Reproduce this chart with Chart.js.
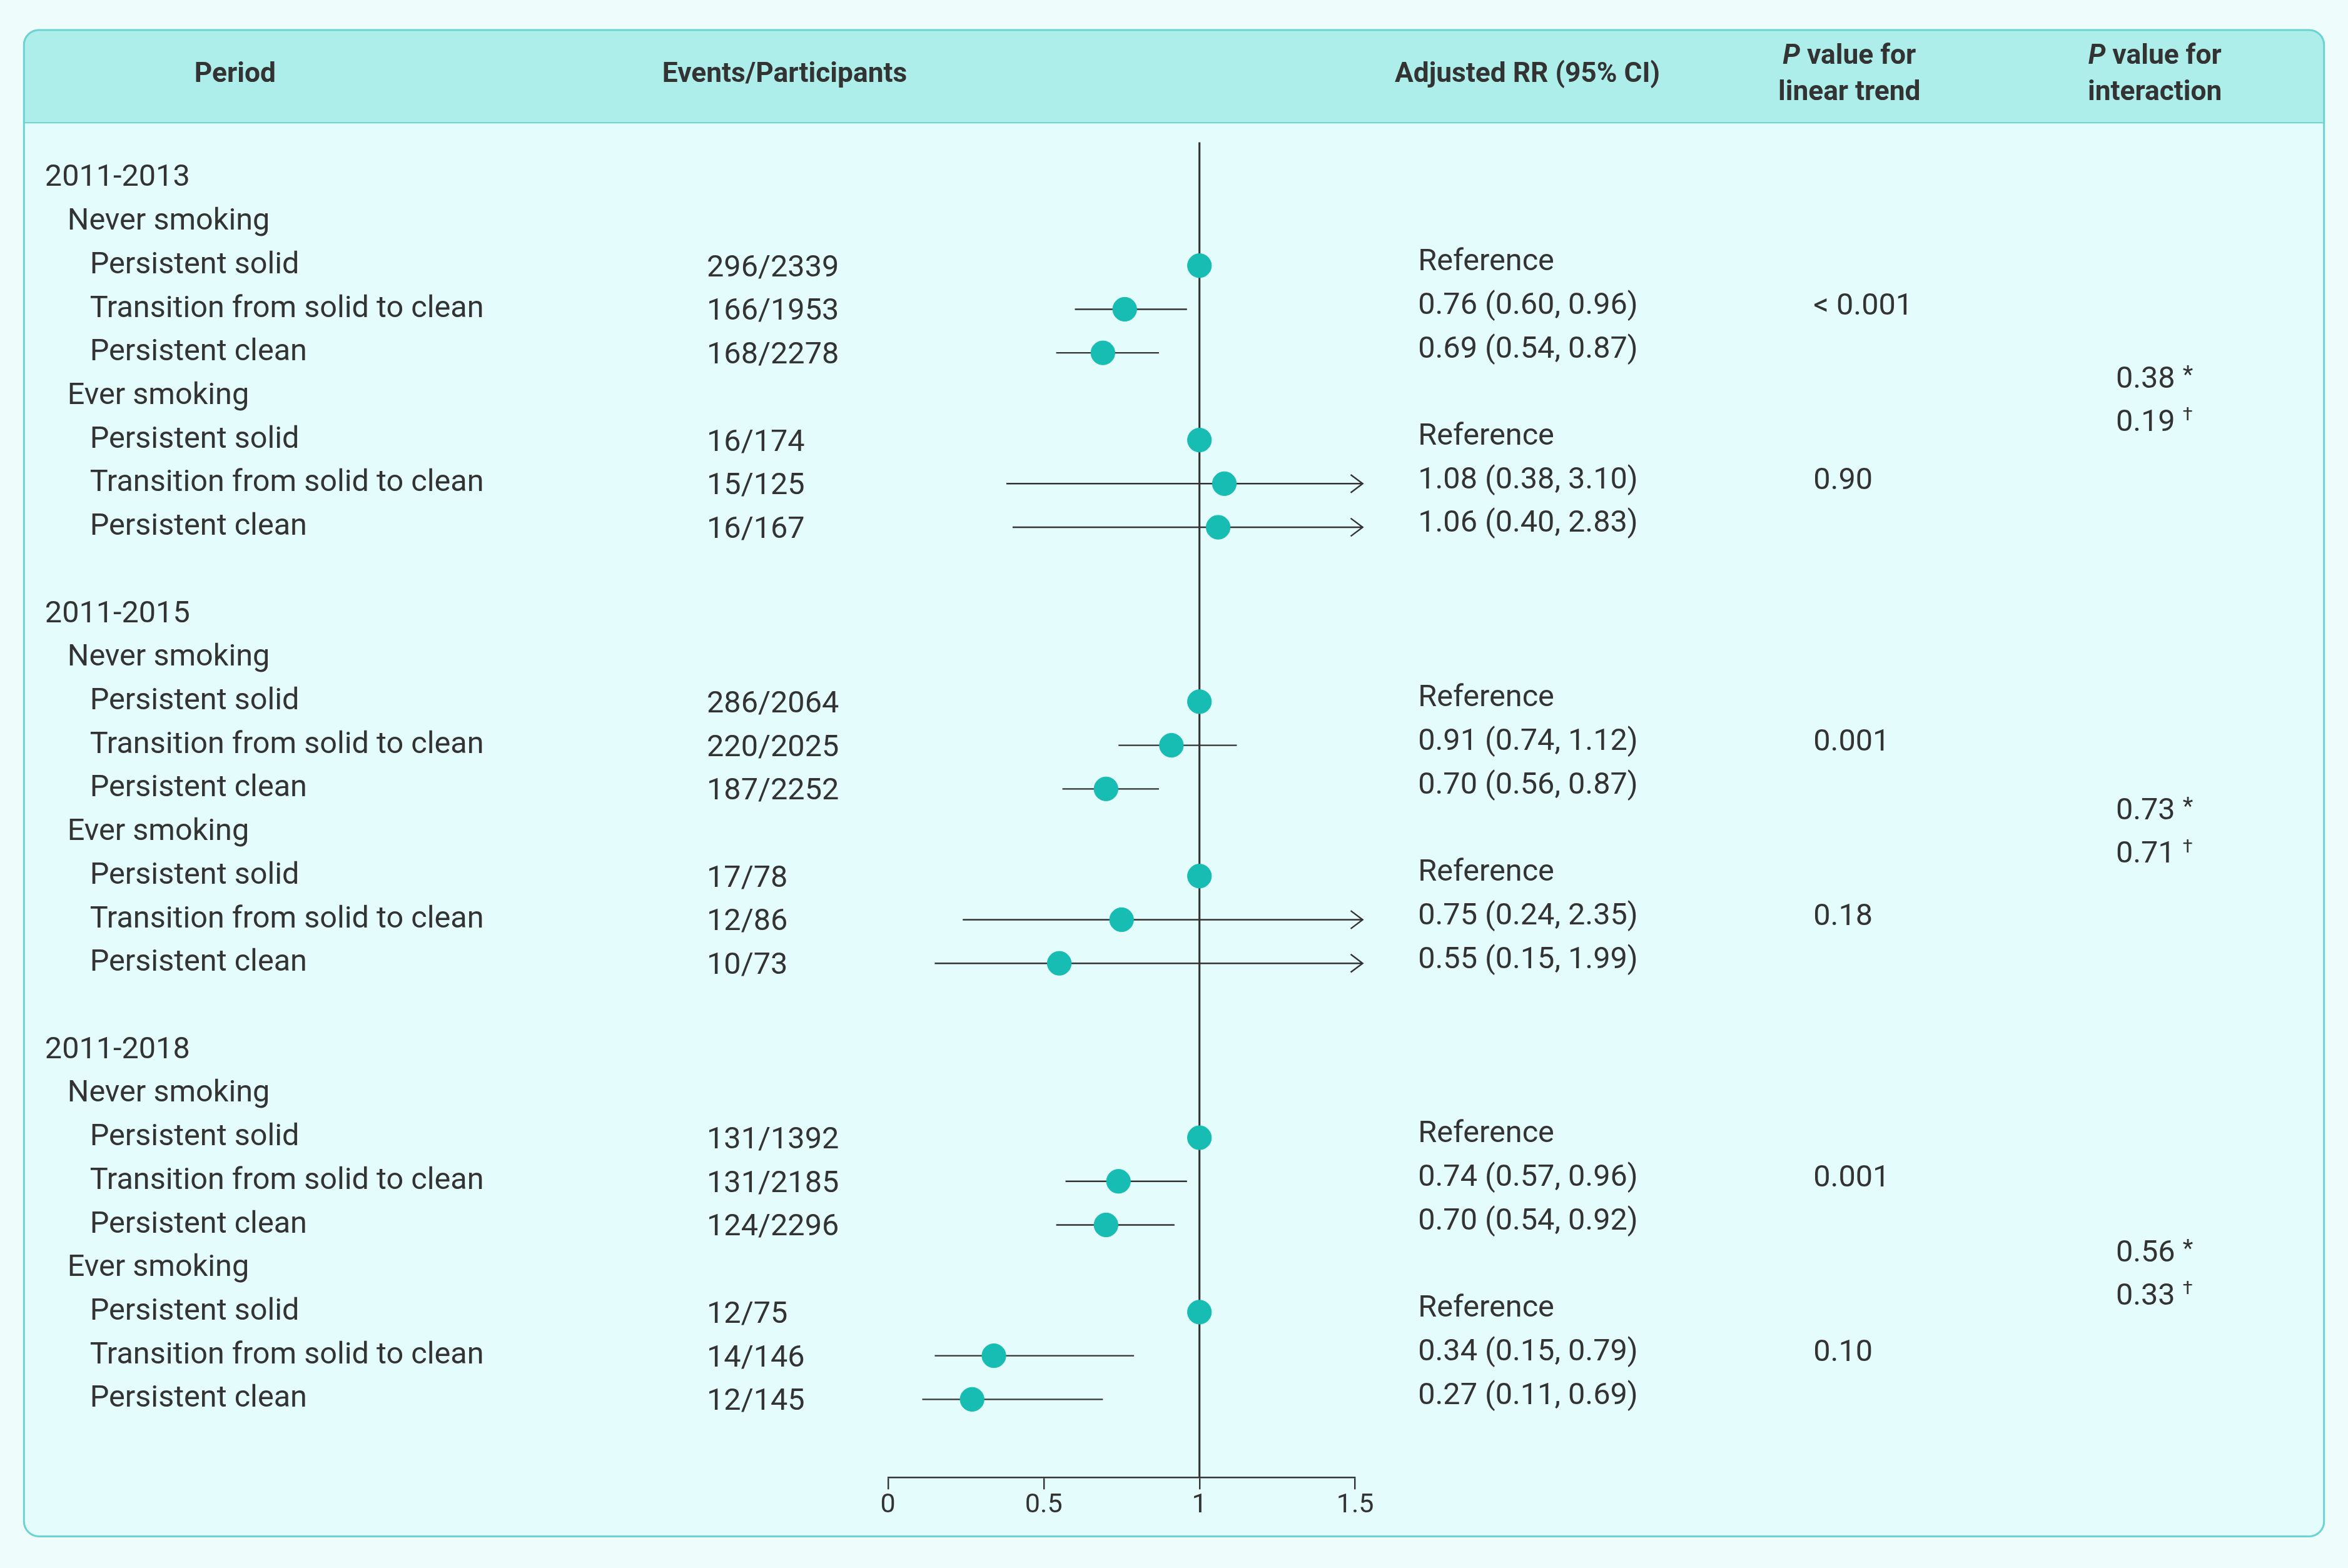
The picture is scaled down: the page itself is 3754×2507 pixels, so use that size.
<!DOCTYPE html>
<html><head><meta charset="utf-8">
<script src="https://cdn.jsdelivr.net/npm/chart.js@4/dist/chart.umd.min.js"></script>
<style>html,body{margin:0;background:#effcfc}#wrap{width:3754px;height:2507px}</style>
</head><body><div id="wrap"><canvas id="c"></canvas></div>
<script>
// ---- data ----
const periods = ['2011-2013', '2011-2015', '2011-2018'];
const groups = ['Never smoking', 'Ever smoking'];
const categories = ['Persistent solid', 'Transition from solid to clean', 'Persistent clean'];
const events = [
  '296/2339', '166/1953', '168/2278', '16/174', '15/125', '16/167',
  '286/2064', '220/2025', '187/2252', '17/78', '12/86', '10/73',
  '131/1392', '131/2185', '124/2296', '12/75', '14/146', '12/145'
];
const rr =   [1, 0.76, 0.69, 1, 1.08, 1.06,  1, 0.91, 0.70, 1, 0.75, 0.55,  1, 0.74, 0.70, 1, 0.34, 0.27];
const lo =   [null, 0.60, 0.54, null, 0.38, 0.40,  null, 0.74, 0.56, null, 0.24, 0.15,  null, 0.57, 0.54, null, 0.15, 0.11];
const hi =   [null, 0.96, 0.87, null, 3.10, 2.83,  null, 1.12, 0.87, null, 2.35, 1.99,  null, 0.96, 0.92, null, 0.79, 0.69];
const pTrend = [['< 0.001', '0.90'], ['0.001', '0.18'], ['0.001', '0.10']];
const pInter = [['0.38', '0.19'], ['0.73', '0.71'], ['0.56', '0.33']];
const pInterRows = [[4.62, 5.62], [14.52, 15.52], [24.66, 25.66]];
const xTicks = [0, 0.5, 1, 1.5];

const S = 3754 / 1568;
const TXT = '#333333', DOT = '#17bdb3';
const FONT = "'Roboto', sans-serif";
const BODY = `${20.3 * S}px ${FONT}`;

// row index of each estimate
const rowOf = i => {
  const p = Math.floor(i / 6), g = Math.floor((i % 6) / 3), c = i % 3;
  return p * 10 + g * 4 + 2 + c;
};
const points = rr.map((v, i) => ({ x: v, y: rowOf(i) }));

const tablePlugin = {
  id: 'table',
  beforeDraw(chart) {
    const ctx = chart.ctx;
    ctx.save();
    ctx.fillStyle = '#effcfc';
    ctx.fillRect(0, 0, chart.width, chart.height);
    const x0 = 16 * S, y0 = 20 * S, w = 1536 * S, h = 1006 * S, r = 10 * S;
    ctx.beginPath(); ctx.roundRect(x0, y0, w, h, r);
    ctx.fillStyle = '#e4fcfc'; ctx.fill();
    ctx.save(); ctx.clip();
    ctx.fillStyle = '#aeeeea'; ctx.fillRect(x0, y0, w, 62 * S);
    ctx.strokeStyle = '#6cd2d2'; ctx.lineWidth = 2;
    ctx.beginPath(); ctx.moveTo(x0, 82 * S); ctx.lineTo(x0 + w, 82 * S); ctx.stroke();
    ctx.restore();
    ctx.beginPath(); ctx.roundRect(x0, y0, w, h, r);
    ctx.strokeStyle = '#6cd2d2'; ctx.lineWidth = 3; ctx.stroke();

    // header
    ctx.fillStyle = TXT; ctx.textBaseline = 'middle'; ctx.textAlign = 'center';
    const hb = `bold ${18.5 * S}px ${FONT}`;
    ctx.font = hb;
    ctx.fillText('Period', 157 * S, 50 * S);
    ctx.fillText('Events/Participants', 524 * S, 50 * S);
    ctx.fillText('Adjusted RR (95% CI)', 1020 * S, 50 * S);
    const pHead = (cx, l2) => {
      cx *= S;
      ctx.font = hb;
      const w1 = ctx.measureText(' value for').width;
      ctx.font = `italic bold ${18.5 * S}px ${FONT}`;
      const wp = ctx.measureText('P').width;
      const sx = cx - (wp + w1) / 2;
      ctx.textAlign = 'left';
      ctx.fillText('P', sx, 38 * S);
      ctx.font = hb; ctx.fillText(' value for', sx + wp, 38 * S);
      ctx.textAlign = 'center'; ctx.fillText(l2, cx, 62 * S);
    };
    pHead(1235, 'linear trend');
    pHead(1439, 'interaction');

    // body text
    const ys = chart.scales.y;
    const Y = row => ys.getPixelForValue(row);
    ctx.textAlign = 'left';
    periods.forEach((p, pi) => {
      ctx.font = BODY;
      ctx.fillText(p, 30 * S, Y(pi * 10));
      groups.forEach((g, gi) => {
        ctx.fillText(g, 45 * S, Y(pi * 10 + gi * 4 + 1));
        categories.forEach((c, ci) => ctx.fillText(c, 60 * S, Y(pi * 10 + gi * 4 + 2 + ci)));
        ctx.fillText(pTrend[pi][gi], 1211 * S, Y(pi * 10 + gi * 4 + 3) - 1.5 * S);
      });
      pInter[pi].forEach((v, k) => {
        const yy = Y(pInterRows[pi][k]);
        ctx.font = BODY;
        ctx.fillText(v, 1413 * S, yy);
        const vw = ctx.measureText(v + ' ').width;
        ctx.font = `${(k ? 12 : 16) * S}px ${FONT}`;
        ctx.fillText(k ? '†' : '*', 1413 * S + vw, yy - (k ? 5 : 2) * S);
      });
    });
    ctx.font = BODY;
    rr.forEach((v, i) => {
      const yy = Y(rowOf(i));
      ctx.fillText(events[i], 472 * S, yy + 2 * S);
      const t = lo[i] == null ? 'Reference' : `${v.toFixed(2)} (${lo[i].toFixed(2)}, ${hi[i].toFixed(2)})`;
      ctx.fillText(t, 947 * S, yy - 2 * S);
    });

    // reference line and CIs
    const xs = chart.scales.x;
    const ca = chart.chartArea;
    ctx.strokeStyle = '#333'; ctx.lineWidth = 1.3 * S;
    ctx.beginPath(); ctx.moveTo(xs.getPixelForValue(1), ca.top); ctx.lineTo(xs.getPixelForValue(1), ca.bottom); ctx.stroke();
    ctx.lineWidth = 1 * S;
    rr.forEach((v, i) => {
      if (lo[i] == null) return;
      const yy = Y(rowOf(i));
      const a = xs.getPixelForValue(lo[i]);
      const over = hi[i] > 1.5;
      const b = over ? xs.getPixelForValue(1.5) + 5 * S : xs.getPixelForValue(hi[i]);
      ctx.beginPath(); ctx.moveTo(a, yy); ctx.lineTo(b, yy); ctx.stroke();
      if (over) {
        ctx.beginPath();
        ctx.moveTo(b - 8 * S, yy - 6 * S); ctx.lineTo(b, yy); ctx.lineTo(b - 8 * S, yy + 6 * S);
        ctx.stroke();
      }
    });
    ctx.restore();
  }
};

new Chart(document.getElementById('c'), {
  type: 'scatter',
  data: { datasets: [{ data: points, backgroundColor: DOT, borderColor: DOT, pointRadius: 8 * S, pointHoverRadius: 8 * S }] },
  options: {
    responsive: true, maintainAspectRatio: false, devicePixelRatio: 1, animation: false,
    layout: { padding: { left: 593 * S, right: 3754 - 905 * S, top: 95 * S, bottom: 74 } },
    plugins: { legend: { display: false }, tooltip: { enabled: false } },
    scales: {
      x: {
        type: 'linear', min: 0, max: 1.5,
        afterBuildTicks: s => { s.ticks = xTicks.map(v => ({ value: v })); },
        ticks: { color: TXT, font: { size: 18 * S, family: FONT }, padding: 0, callback: v => String(v) },
        grid: { drawOnChartArea: false, color: '#333', tickLength: 8 * S, lineWidth: 1 * S },
        border: { color: '#333', width: 1 * S }
      },
      y: { display: false, reverse: true, min: -0.83, max: 29.79 }
    }
  },
  plugins: [tablePlugin]
});
</script></body></html>
